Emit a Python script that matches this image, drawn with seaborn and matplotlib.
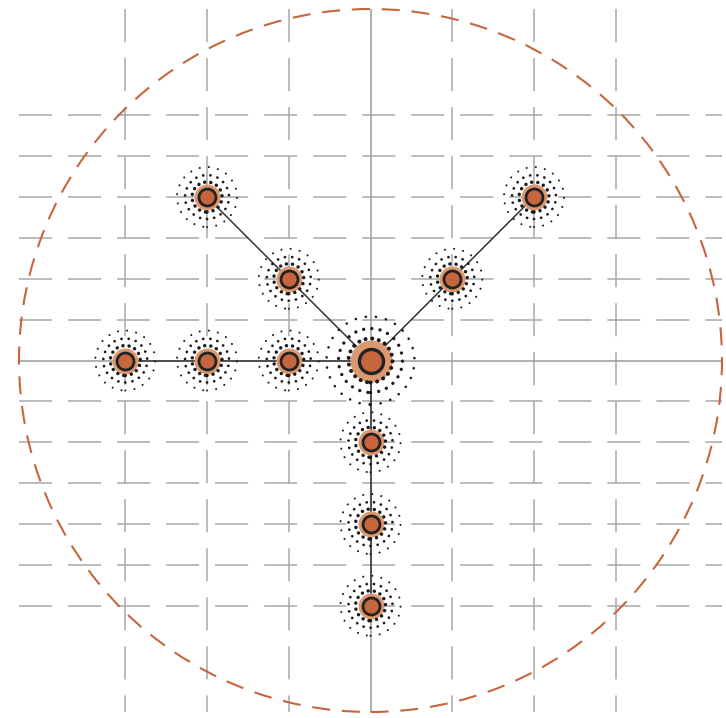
import numpy as np
import pandas as pd
import seaborn as sns
import matplotlib.pyplot as plt
from matplotlib.patches import Circle

sns.set_theme(style="white")
plt.rcParams['lines.scale_dashes'] = False

# tree nodes (data units), root first
node_x = [0, -1, -2, -3, 0, 0, 0, -1, -2, 1, 2]
node_y = [0, 0, 0, 0, -1, -2, -3, 1, 2, 1, 2]
node_parent = [-1, 0, 1, 2, 0, 4, 5, 0, 7, 0, 9]
grid_x = [-3, -2, -1, 1, 2, 3]
grid_y = [-3, -2.5, -2, -1.5, -1, -0.5, 0.5, 1, 1.5, 2, 2.5, 3]
limit = 4.3
ring_radius = 4.3

nodes = pd.DataFrame({'x': node_x, 'y': node_y, 'parent': node_parent})
nodes['root'] = nodes['parent'] < 0
root = nodes[nodes['root']]
leaves = nodes[~nodes['root']]

orange = '#c6663f'
halo = '#dd9870'
gridc = '#a8a8a8'

fig = plt.figure(figsize=(7.26, 7.18), dpi=100)
ax = fig.add_axes([19 / 726, 6 / 718, 703 / 726, 703 / 718])
ax.set_xlim(-limit, limit)
ax.set_ylim(-limit, limit)
ax.set_aspect('equal')
ax.axis('off')

# dashed grid, started from the top / left edge
for gx in grid_x:
    ax.plot([gx, gx], [limit, -limit], color=gridc, lw=1.1,
            linestyle=(0, (23.8, 11.5)), zorder=1)
for gy in grid_y:
    ax.plot([-limit, limit], [gy, gy], color=gridc, lw=1.1,
            linestyle=(0, (23.8, 11.5)), zorder=1)
ax.plot([0, 0], [limit, -limit], color='#9a9a9a', lw=1.1, zorder=1)
ax.plot([-limit, limit], [0, 0], color='#9a9a9a', lw=1.1, zorder=1)

ax.add_patch(Circle((0, 0), ring_radius, fill=False, edgecolor=orange, lw=1.5,
                    linestyle=(0, (13, 8.5)), clip_on=False, zorder=1.5))

# edges
for _, row in leaves.iterrows():
    p = nodes.loc[row['parent']]
    ax.plot([p['x'], row['x']], [p['y'], row['y']], color='#333333', lw=1.1,
            solid_capstyle='butt', zorder=2)

# halos
ax.scatter(leaves['x'], leaves['y'], s=350, color=halo, linewidths=0, zorder=3)
ax.scatter(root['x'], root['y'], s=910, color=halo, linewidths=0, zorder=3)

# dotted rings: (size, dot width, gap)
leaf_rings = [(467, 2.5, 4.4), (1004, 2.0, 5.2), (1866, 1.5, 6.6)]
root_rings = [(1004, 2.9, 4.8), (2123, 2.4, 5.9), (4014, 1.9, 7.3)]
for df, rings in [(leaves, leaf_rings), (root, root_rings)]:
    for s, w, gap in rings:
        ax.scatter(df['x'], df['y'], s=s, facecolors='none', edgecolors='#1a1a1a',
                   linewidths=w, linestyle=(0, (0.05, gap)), capstyle='round',
                   zorder=4)

# nodes
sns.scatterplot(data=leaves, x='x', y='y', s=150, color=orange,
                edgecolor='#222222', linewidth=2.0, ax=ax, zorder=5, legend=False)
sns.scatterplot(data=root, x='x', y='y', s=300, color=orange,
                edgecolor='#222222', linewidth=2.4, ax=ax, zorder=5, legend=False)
ax.set_xlabel('')
ax.set_ylabel('')

fig.savefig('out.png', dpi=100)
